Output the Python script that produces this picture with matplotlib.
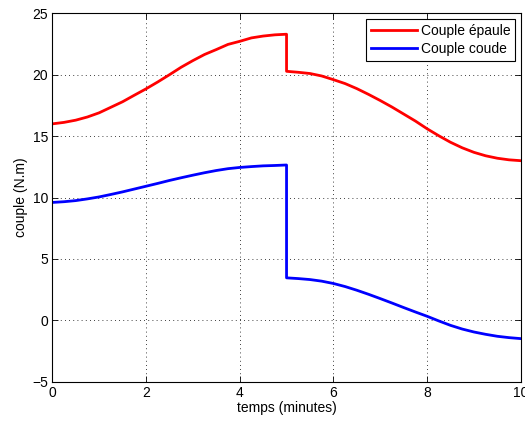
import matplotlib
matplotlib.use("Agg")
import matplotlib.pyplot as plt

plt.rcParams['font.family'] = ['Liberation Sans', 'DejaVu Sans']

t_before = [0.0, 0.25, 0.5, 0.75, 1.0, 1.25, 1.5, 1.75, 2.0, 2.25, 2.5,
            2.75, 3.0, 3.25, 3.5, 3.75, 4.0, 4.25, 4.5, 4.75, 5.0]
t_after = [5.0, 5.25, 5.5, 5.75, 6.0, 6.25, 6.5, 6.75, 7.0, 7.25, 7.5,
           7.75, 8.0, 8.25, 8.5, 8.75, 9.0, 9.25, 9.5, 9.75, 10.0]

epaule_before = [16.0, 16.12, 16.3, 16.56, 16.9, 17.35, 17.8, 18.33, 18.85, 19.41, 20.0,
                 20.61, 21.15, 21.65, 22.05, 22.47, 22.72, 23.0, 23.15, 23.25, 23.3]
epaule_after = [20.28, 20.2, 20.1, 19.9, 19.6, 19.28, 18.87, 18.4, 17.9, 17.37, 16.8,
                16.23, 15.6, 15.03, 14.5, 14.05, 13.68, 13.4, 13.2, 13.07, 13.0]

coude_before = [9.6, 9.66, 9.75, 9.89, 10.05, 10.25, 10.46, 10.69, 10.92, 11.15, 11.39,
                11.61, 11.82, 12.02, 12.2, 12.35, 12.45, 12.52, 12.58, 12.61, 12.65]
coude_after = [3.46, 3.4, 3.32, 3.19, 3.0, 2.75, 2.45, 2.12, 1.77, 1.41, 1.04,
               0.68, 0.33, -0.05, -0.41, -0.71, -0.95, -1.14, -1.3, -1.41, -1.49]

t = t_before + t_after
epaule = epaule_before + epaule_after
coude = coude_before + coude_after

xticks = [0, 2, 4, 6, 8, 10]
yticks = [-5, 0, 5, 10, 15, 20, 25]

fig = plt.figure(figsize=(5.25, 4.21), dpi=100)
ax = fig.add_axes([0.0996, 0.0933, 0.8924, 0.875])

ax.plot(t, epaule, color='#ff0000', lw=2.0, label='Couple épaule')
ax.plot(t, coude, color='#0000ff', lw=2.0, label='Couple coude')

ax.set_xlim(0, 10)
ax.set_ylim(-5, 25)
ax.set_xticks(xticks)
ax.set_yticks(yticks)
ax.set_yticklabels(['\u22125' if v < 0 else str(v) for v in yticks])
ax.tick_params(direction='in', top=True, right=True, labelsize=10, length=4, width=0.6, pad=3)
ax.grid(True, linestyle=(0, (1, 4)), color='black', linewidth=0.6)
for s in ax.spines.values():
    s.set_linewidth(0.8)

ax.set_xlabel('temps (minutes)', fontsize=10, labelpad=1)
ax.set_ylabel('couple (N.m)', fontsize=10, labelpad=3)

leg = ax.legend(loc='upper right', fontsize=10, fancybox=False, framealpha=1,
                edgecolor='black', handlelength=3.3, borderpad=0.35,
                labelspacing=0.3, handletextpad=0.3, borderaxespad=0.4)
leg.get_frame().set_linewidth(0.8)

fig.savefig('out.png', dpi=100)
